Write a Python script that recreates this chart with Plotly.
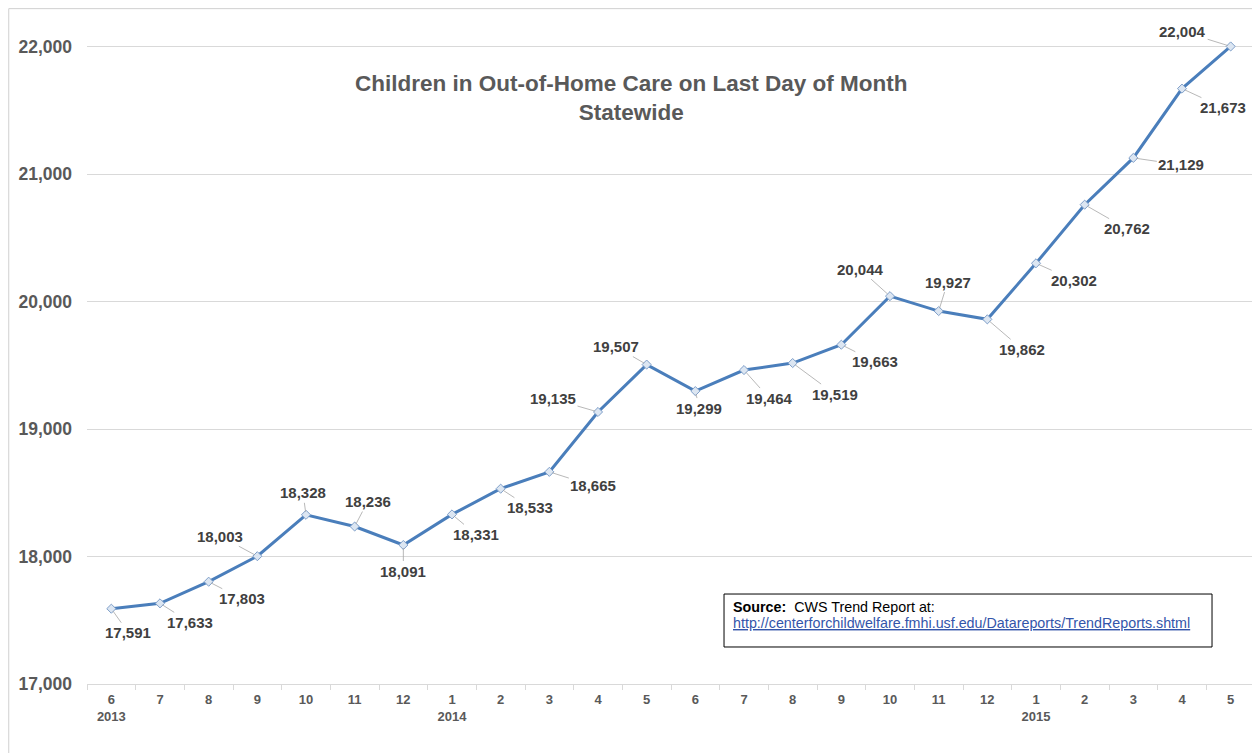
import plotly.graph_objects as go

# monthly counts, June 2013 .. May 2015
months = ['6', '7', '8', '9', '10', '11', '12', '1', '2', '3', '4', '5',
          '6', '7', '8', '9', '10', '11', '12', '1', '2', '3', '4', '5']
years = ['2013', '', '', '', '', '', '', '2014', '', '', '', '',
         '', '', '', '', '', '', '', '2015', '', '', '', '']
children = [17591, 17633, 17803, 18003, 18328, 18236, 18091, 18331, 18533, 18665,
            19135, 19507, 19299, 19464, 19519, 19663, 20044, 19927, 19862, 20302,
            20762, 21129, 21673, 22004]

# label offsets (px) from each point, like the leader lines in the original
lab_dx = [17, 30, 33, -37, -3, 13, 0, 24, 29, 44, -45, -31,
          4, 25, 42, 34, -30, 9, 35, 38, 42, 48, 41, -48]
lab_dy = [24, 19, 17, -20, -22, -25, 26, 20, 19, 14, -13, -18,
          17, 28, 31, 17, -27, -29, 30, 17, 24, 7, 19, -15]

xs = list(range(len(children)))
ticktext = ['<b>' + m + ('<br>' + y if y else '') + '</b>' for m, y in zip(months, years)]
font = 'Liberation Sans, Arial'

fig = go.Figure()
fig.add_trace(go.Scatter(
    x=xs, y=children, mode='lines+markers',
    line=dict(color='#4a7ebb', width=3),
    marker=dict(symbol='diamond', size=7, color='#dce6f2',
                line=dict(color='#7f9fc9', width=1)),
    hoverinfo='y', showlegend=False))

for i in xs:
    fig.add_annotation(x=i, y=children[i], text='<b>' + f'{children[i]:,}' + '</b>',
                       showarrow=True, arrowhead=0, arrowwidth=0.8,
                       arrowcolor='#a6a6a6', standoff=3,
                       ax=lab_dx[i], ay=lab_dy[i],
                       font=dict(family=font, size=15, color='#404040'))

fig.add_annotation(xref='paper', yref='paper', x=0.4666, y=0.912,
                   text='<b>Children in Out-of-Home Care on Last Day of Month<br>Statewide</b>',
                   showarrow=False, xanchor='center', yanchor='top',
                   font=dict(family=font, size=22.5, color='#595959'))

# source box
fig.add_shape(type='rect', xref='paper', yref='paper',
              x0=0.5454, y0=0.0549, x1=0.9632, y1=0.1335,
              line=dict(color='#000000', width=1), fillcolor='white')
fig.add_annotation(xref='paper', yref='paper', x=0.551, y=0.1142,
                   xanchor='left', yanchor='middle', showarrow=False,
                   text='<b>Source:</b>  CWS Trend Report at:',
                   font=dict(family=font, size=14.3, color='#000000'))
fig.add_annotation(xref='paper', yref='paper', x=0.551, y=0.0905,
                   xanchor='left', yanchor='middle', showarrow=False,
                   text='<a href="http://centerforchildwelfare.fmhi.usf.edu/Datareports/TrendReports.shtml" '
                        'style="color:#3355aa"><u>http://centerforchildwelfare.fmhi.usf.edu/Datareports/TrendReports.shtml</u></a>',
                   font=dict(family=font, size=14.3, color='#3355aa'))

# outer chart border
fig.add_shape(type='rect', xref='paper', yref='paper',
              x0=-0.067, y0=-0.2, x1=1.02, y1=1.002,
              line=dict(color='#d0d0d0', width=1), layer='below')

fig.update_xaxes(range=[-0.5, 23.5], tickmode='array', tickvals=xs, ticktext=ticktext,
                 showgrid=False, zeroline=False, showline=True, linecolor='#d9d9d9',
                 tickfont=dict(family=font, size=13, color='#595959'),
                 ticks='', ticklabelstandoff=3,
                 minor=dict(tickmode='linear', tick0=-0.5, dtick=1,
                            ticks='outside', ticklen=5, tickcolor='#d9d9d9'))
fig.update_yaxes(range=[17000, 22290], tickvals=[17000, 18000, 19000, 20000, 21000, 22000],
                 ticktext=['<b>17,000</b>', '<b>18,000</b>', '<b>19,000</b>',
                           '<b>20,000</b>', '<b>21,000</b>', '<b>22,000</b>'],
                 showgrid=True, gridcolor='#d9d9d9', zeroline=False,
                 ticklabelstandoff=14,
                 tickfont=dict(family=font, size=17.5, color='#595959'))

fig.update_layout(width=1252, height=745, plot_bgcolor='white', paper_bgcolor='white',
                  margin=dict(l=79, r=5, t=2, b=69), hovermode='closest')

fig.write_html("out.html")
